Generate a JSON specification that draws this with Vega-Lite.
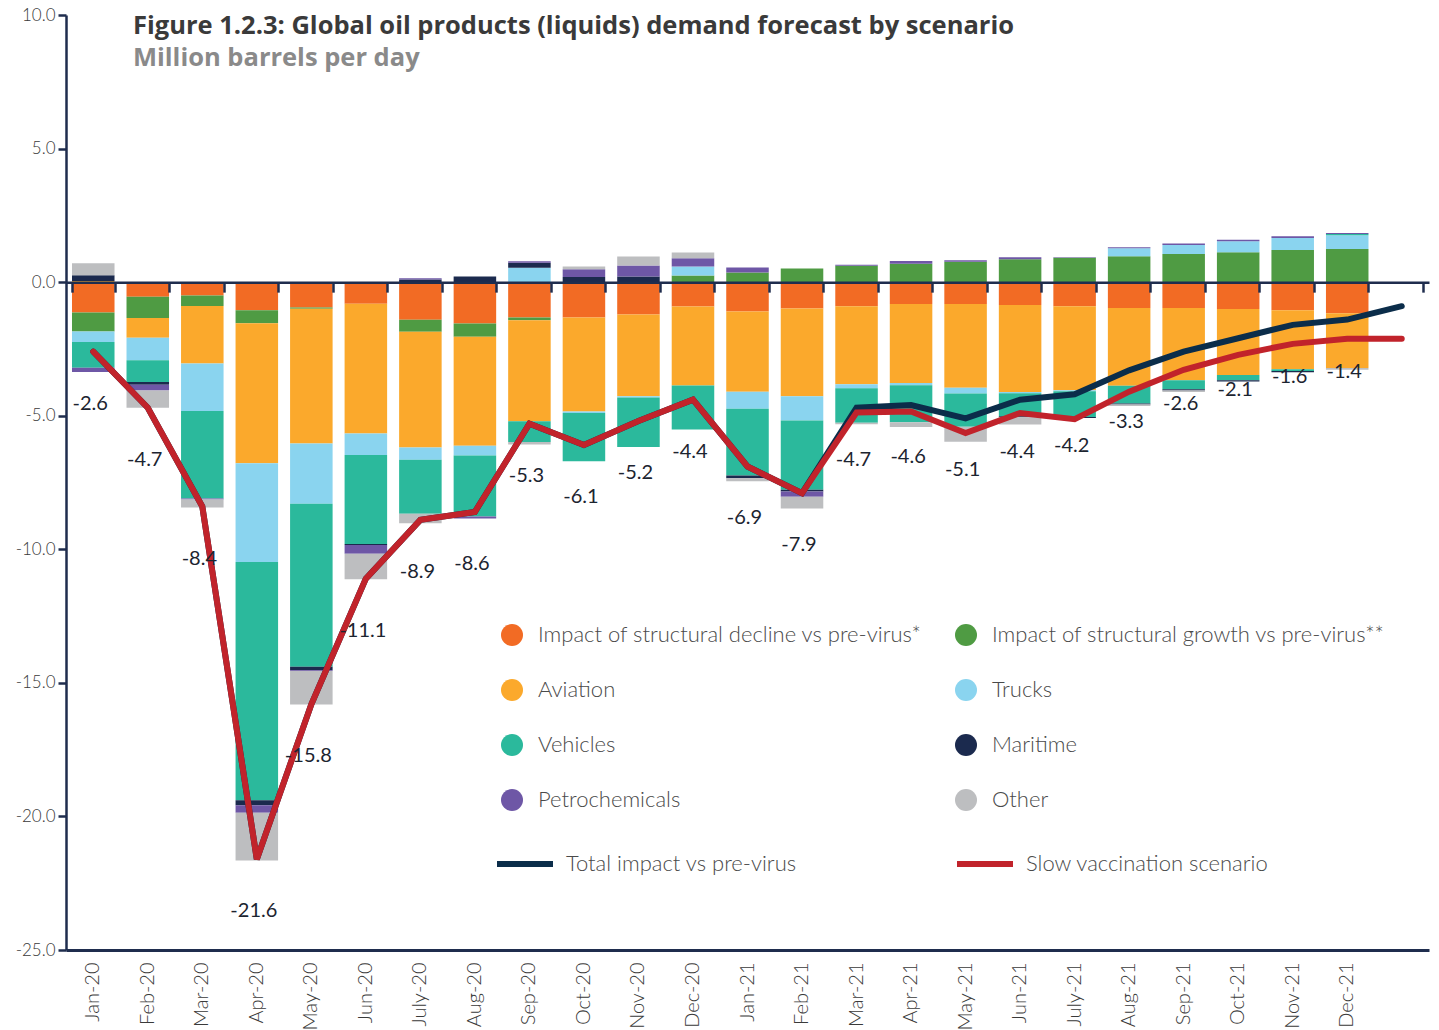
{
  "$schema": "https://vega.github.io/schema/vega-lite/v6.json",
  "width": 1363,
  "height": 935,
  "autosize": {"type": "none"},
  "padding": {"left": 66, "top": 15, "right": 10, "bottom": 80},
  "background": "white",
  "config": {"font": "Lato", "view": {"stroke": null}},
  "title": {
    "text": "Figure 1.2.3: Global oil products (liquids) demand forecast by scenario",
    "subtitle": "Million barrels per day",
    "anchor": "start",
    "frame": "group",
    "orient": "top",
    "offset": -65,
    "dx": 67,
    "font": "Open Sans",
    "fontSize": 25.5,
    "fontWeight": "bold",
    "color": "#3a3a3a",
    "subtitleFont": "Open Sans",
    "subtitleFontSize": 25.5,
    "subtitleFontWeight": "bold",
    "subtitleColor": "#8a8a8a",
    "subtitlePadding": 6
  },
  "datasets": {
    "bars": [
      {"month": "Jan-20", "decline": -1.14, "growth": -0.71, "aviation": 0.04, "trucks": -0.39, "vehicles": -0.96, "maritime": 0.22, "petro": -0.16, "other": 0.45},
      {"month": "Feb-20", "decline": -0.55, "growth": -0.79, "aviation": -0.74, "trucks": -0.84, "vehicles": -0.82, "maritime": -0.10, "petro": -0.22, "other": -0.64},
      {"month": "Mar-20", "decline": -0.50, "growth": -0.39, "aviation": -2.16, "trucks": -1.77, "vehicles": -3.28, "petro": -0.04, "other": -0.30},
      {"month": "Apr-20", "decline": -1.05, "growth": -0.49, "aviation": -5.24, "trucks": -3.70, "vehicles": -8.91, "maritime": -0.19, "petro": -0.28, "other": -1.79},
      {"month": "May-20", "decline": -0.95, "growth": -0.05, "aviation": -5.04, "trucks": -2.26, "vehicles": -6.10, "maritime": -0.13, "petro": -0.03, "other": -1.25},
      {"month": "Jun-20", "decline": -0.81, "aviation": -4.86, "trucks": -0.80, "vehicles": -3.33, "maritime": -0.04, "petro": -0.33, "other": -0.95},
      {"month": "July-20", "decline": -1.41, "growth": -0.45, "aviation": -4.33, "trucks": -0.46, "vehicles": -2.02, "maritime": 0.10, "petro": 0.05, "other": -0.36},
      {"month": "Aug-20", "decline": -1.55, "growth": -0.49, "aviation": -4.08, "trucks": -0.37, "vehicles": -2.28, "maritime": 0.21, "petro": -0.08},
      {"month": "Sep-20", "decline": -1.32, "growth": -0.11, "aviation": -3.78, "trucks": 0.54, "vehicles": -0.77, "maritime": 0.19, "petro": 0.05, "other": -0.10},
      {"month": "Oct-20", "decline": -1.32, "aviation": -3.52, "trucks": -0.06, "vehicles": -1.80, "maritime": 0.19, "petro": 0.29, "other": 0.11},
      {"month": "Nov-20", "decline": -1.21, "aviation": -3.06, "trucks": -0.05, "vehicles": -1.85, "maritime": 0.21, "petro": 0.41, "other": 0.34},
      {"month": "Dec-20", "decline": -0.91, "growth": 0.25, "aviation": -2.96, "trucks": 0.34, "vehicles": -1.65, "petro": 0.30, "other": 0.22},
      {"month": "Jan-21", "decline": -1.10, "growth": 0.36, "aviation": -3.00, "trucks": -0.64, "vehicles": -2.50, "maritime": -0.10, "petro": 0.19, "other": -0.11},
      {"month": "Feb-21", "decline": -0.99, "growth": 0.51, "aviation": -3.28, "trucks": -0.91, "vehicles": -2.59, "maritime": -0.07, "petro": -0.19, "other": -0.44},
      {"month": "Mar-21", "decline": -0.90, "growth": 0.61, "aviation": -2.92, "trucks": -0.15, "vehicles": -1.29, "petro": 0.04, "other": -0.06},
      {"month": "Apr-21", "decline": -0.82, "growth": 0.69, "aviation": -2.96, "trucks": -0.08, "vehicles": -1.38, "petro": 0.10, "other": -0.18},
      {"month": "May-21", "decline": -0.82, "growth": 0.76, "aviation": -3.13, "trucks": -0.22, "vehicles": -1.24, "petro": 0.06, "other": -0.56},
      {"month": "Jun-21", "decline": -0.86, "growth": 0.86, "aviation": -3.25, "trucks": -0.05, "vehicles": -0.86, "maritime": -0.04, "petro": 0.07, "other": -0.27},
      {"month": "July-21", "decline": -0.90, "growth": 0.91, "aviation": -3.15, "trucks": -0.03, "vehicles": -0.97, "maritime": -0.04, "petro": 0.02},
      {"month": "Aug-21", "decline": -0.97, "growth": 0.97, "aviation": -2.91, "trucks": 0.30, "vehicles": -0.66, "maritime": -0.04, "petro": 0.04, "other": -0.06},
      {"month": "Sep-21", "decline": -0.97, "growth": 1.05, "aviation": -2.70, "trucks": 0.34, "vehicles": -0.34, "maritime": -0.05, "petro": 0.06, "other": -0.05},
      {"month": "Oct-21", "decline": -1.01, "growth": 1.12, "aviation": -2.47, "trucks": 0.41, "vehicles": -0.19, "maritime": -0.05, "petro": 0.06},
      {"month": "Nov-21", "decline": -1.05, "growth": 1.20, "aviation": -2.21, "trucks": 0.45, "vehicles": -0.07, "maritime": -0.04, "petro": 0.07},
      {"month": "Dec-21", "decline": -1.16, "growth": 1.24, "aviation": -2.05, "trucks": 0.52, "vehicles": 0.04, "petro": 0.04, "other": -0.07}
    ],
    "lines": [
      {"month": "Jan-20", "total": -2.6, "slow": -2.6},
      {"month": "Feb-20", "total": -4.7, "slow": -4.7},
      {"month": "Mar-20", "total": -8.4, "slow": -8.4},
      {"month": "Apr-20", "total": -21.6, "slow": -21.6},
      {"month": "May-20", "total": -15.8, "slow": -15.8},
      {"month": "Jun-20", "total": -11.1, "slow": -11.1},
      {"month": "July-20", "total": -8.9, "slow": -8.9},
      {"month": "Aug-20", "total": -8.6, "slow": -8.6},
      {"month": "Sep-20", "total": -5.3, "slow": -5.3},
      {"month": "Oct-20", "total": -6.1, "slow": -6.1},
      {"month": "Nov-20", "total": -5.2, "slow": -5.2},
      {"month": "Dec-20", "total": -4.4, "slow": -4.4},
      {"month": "Jan-21", "total": -6.9, "slow": -6.9},
      {"month": "Feb-21", "total": -7.9, "slow": -7.9},
      {"month": "Mar-21", "total": -4.7, "slow": -4.88},
      {"month": "Apr-21", "total": -4.6, "slow": -4.84},
      {"month": "May-21", "total": -5.1, "slow": -5.65},
      {"month": "Jun-21", "total": -4.4, "slow": -4.9},
      {"month": "July-21", "total": -4.2, "slow": -5.13},
      {"month": "Aug-21", "total": -3.3, "slow": -4.1},
      {"month": "Sep-21", "total": -2.6, "slow": -3.28},
      {"month": "Oct-21", "total": -2.1, "slow": -2.72},
      {"month": "Nov-21", "total": -1.6, "slow": -2.31},
      {"month": "Dec-21", "total": -1.4, "slow": -2.12},
      {"month": "Jan-22", "total": -0.9, "slow": -2.12}
    ]
  },
  "resolve": {"axis": {"x": "independent"}},
  "layer": [
    {
      "data": {"name": "bars"},
      "transform": [
        {"fold": ["decline", "growth", "aviation", "trucks", "vehicles", "maritime", "petro", "other"], "as": ["cat", "v"]},
        {"filter": "isValid(datum.v)"},
        {"calculate": "indexof(['decline','growth','aviation','trucks','vehicles','maritime','petro','other'], datum.cat)", "as": "k"}
      ],
      "mark": {"type": "bar"},
      "encoding": {
        "x": {
          "field": "month", "type": "nominal",
          "scale": {"type": "band", "domain": ["Jan-20","Feb-20","Mar-20","Apr-20","May-20","Jun-20","July-20","Aug-20","Sep-20","Oct-20","Nov-20","Dec-20","Jan-21","Feb-21","Mar-21","Apr-21","May-21","Jun-21","July-21","Aug-21","Sep-21","Oct-21","Nov-21","Dec-21","Jan-22"], "paddingInner": 0.22, "paddingOuter": 0.11},
          "axis": {"orient": "bottom", "title": null, "ticks": false, "domainColor": "#1f2d4e", "domainWidth": 3, "labelAngle": -90, "labelFontSize": 20, "labelFont": "Lato", "labelFontWeight": 300, "labelColor": "#3a3a3a", "labelPadding": 12, "labelOverlap": false, "labelExpr": "datum.value == 'Jan-22' ? '' : datum.value"}
        },
        "y": {
          "field": "v", "type": "quantitative", "stack": "zero",
          "scale": {"domain": [-25, 10], "nice": false, "zero": false},
          "axis": {"title": null, "values": [-25, -20, -15, -10, -5, 0, 5, 10], "grid": false, "tickSize": 8, "tickWidth": 2.5, "tickColor": "#1f2d4e", "domainColor": "#1f2d4e", "domainWidth": 2.5, "labelFontSize": 17, "labelFont": "Lato", "labelFontWeight": 300, "labelColor": "#3a3a3a", "labelPadding": 3, "labelExpr": "replace(format(datum.value, '.1f'), '−', '-')"}
        },
        "color": {
          "field": "cat", "type": "nominal",
          "scale": {"domain": ["decline", "growth", "aviation", "trucks", "vehicles", "maritime", "petro", "other"], "range": ["#f26b24", "#4f9b43", "#fba92c", "#8ad4ef", "#2bb99c", "#1b2a4e", "#6e57a6", "#bdbec0"]},
          "legend": {
            "orient": "none", "legendX": 435, "legendY": 609, "columns": 2, "direction": "horizontal", "title": null,
            "symbolType": "circle", "symbolSize": 484, "symbolStrokeWidth": 0, "symbolOpacity": 1,
            "labelFontSize": 22, "labelFont": "Lato", "labelFontWeight": 300, "labelColor": "#4a4a4a",
            "labelOffset": 15, "rowPadding": 33, "columnPadding": 33, "labelLimit": 600, "padding": 0,
            "labelExpr": "{'decline': 'Impact of structural decline vs pre-virus*', 'growth': 'Impact of structural growth vs pre-virus**', 'aviation': 'Aviation', 'trucks': 'Trucks', 'vehicles': 'Vehicles', 'maritime': 'Maritime', 'petro': 'Petrochemicals', 'other': 'Other'}[datum.label]"
          }
        },
        "order": {"field": "k", "type": "quantitative", "sort": "ascending"}
      }
    },
    {
      "data": {"name": "lines"},
      "transform": [
        {"fold": ["total", "slow"], "as": ["series", "val"]},
        {"filter": "datum.series == 'total'"}
      ],
      "mark": {"type": "line", "strokeWidth": 6, "strokeCap": "round"},
      "encoding": {
        "x": {"field": "month", "type": "nominal", "scale": {"type": "band", "domain": ["Jan-20","Feb-20","Mar-20","Apr-20","May-20","Jun-20","July-20","Aug-20","Sep-20","Oct-20","Nov-20","Dec-20","Jan-21","Feb-21","Mar-21","Apr-21","May-21","Jun-21","July-21","Aug-21","Sep-21","Oct-21","Nov-21","Dec-21","Jan-22"], "paddingInner": 0.22, "paddingOuter": 0.11}, "axis": null},
        "y": {"field": "val", "type": "quantitative"},
        "stroke": {
          "field": "series", "type": "nominal",
          "scale": {"domain": ["total", "slow"], "range": ["#0b2d4a", "#c1232b"]},
          "legend": {
            "orient": "none", "legendX": 428, "legendY": 818, "columns": 2, "direction": "horizontal", "title": null,
            "symbolType": "stroke", "symbolSize": 3136, "symbolStrokeWidth": 6,
            "labelFontSize": 22, "labelFont": "Lato", "labelFontWeight": 300, "labelColor": "#4a4a4a",
            "labelOffset": 10, "columnPadding": 148, "labelLimit": 600, "padding": 0,
            "labelExpr": "datum.label == 'total' ? 'Total impact vs pre-virus' : 'Slow vaccination scenario'"
          }
        }
      }
    },
    {
      "data": {"name": "lines"},
      "transform": [
        {"fold": ["total", "slow"], "as": ["series", "val"]},
        {"filter": "datum.series == 'slow'"}
      ],
      "mark": {"type": "line", "strokeWidth": 6, "strokeCap": "round"},
      "encoding": {
        "x": {"field": "month", "type": "nominal", "scale": {"type": "band", "domain": ["Jan-20","Feb-20","Mar-20","Apr-20","May-20","Jun-20","July-20","Aug-20","Sep-20","Oct-20","Nov-20","Dec-20","Jan-21","Feb-21","Mar-21","Apr-21","May-21","Jun-21","July-21","Aug-21","Sep-21","Oct-21","Nov-21","Dec-21","Jan-22"], "paddingInner": 0.22, "paddingOuter": 0.11},
          "axis": {"orient": "bottom", "offset": -667.86, "title": null, "labels": false, "ticks": true, "tickBand": "extent", "tickSize": 10, "tickWidth": 2.5, "tickColor": "#1f2d4e", "domainColor": "#1f2d4e", "domainWidth": 2.5, "grid": false, "zindex": 1}},
        "y": {"field": "val", "type": "quantitative"},
        "stroke": {
          "field": "series", "type": "nominal",
          "scale": {"domain": ["total", "slow"], "range": ["#0b2d4a", "#c1232b"]},
          "legend": {
            "orient": "none", "legendX": 428, "legendY": 818, "columns": 2, "direction": "horizontal", "title": null,
            "symbolType": "stroke", "symbolSize": 3136, "symbolStrokeWidth": 6,
            "labelFontSize": 22, "labelFont": "Lato", "labelFontWeight": 300, "labelColor": "#4a4a4a",
            "labelOffset": 10, "columnPadding": 148, "labelLimit": 600, "padding": 0,
            "labelExpr": "datum.label == 'total' ? 'Total impact vs pre-virus' : 'Slow vaccination scenario'"
          }
        }
      }
    },
    {
      "data": {"name": "lines"},
      "transform": [{"filter": "datum.month != 'Jan-22'"}],
      "mark": {"type": "text", "dy": 52, "dx": -3, "fontSize": 20, "font": "Lato", "color": "#1c2430"},
      "encoding": {
        "x": {"field": "month", "type": "nominal", "scale": {"type": "band", "domain": ["Jan-20","Feb-20","Mar-20","Apr-20","May-20","Jun-20","July-20","Aug-20","Sep-20","Oct-20","Nov-20","Dec-20","Jan-21","Feb-21","Mar-21","Apr-21","May-21","Jun-21","July-21","Aug-21","Sep-21","Oct-21","Nov-21","Dec-21","Jan-22"], "paddingInner": 0.22, "paddingOuter": 0.11}, "axis": null},
        "y": {"field": "total", "type": "quantitative"},
        "text": {"field": "total", "type": "nominal"}
      }
    }
  ]
}
